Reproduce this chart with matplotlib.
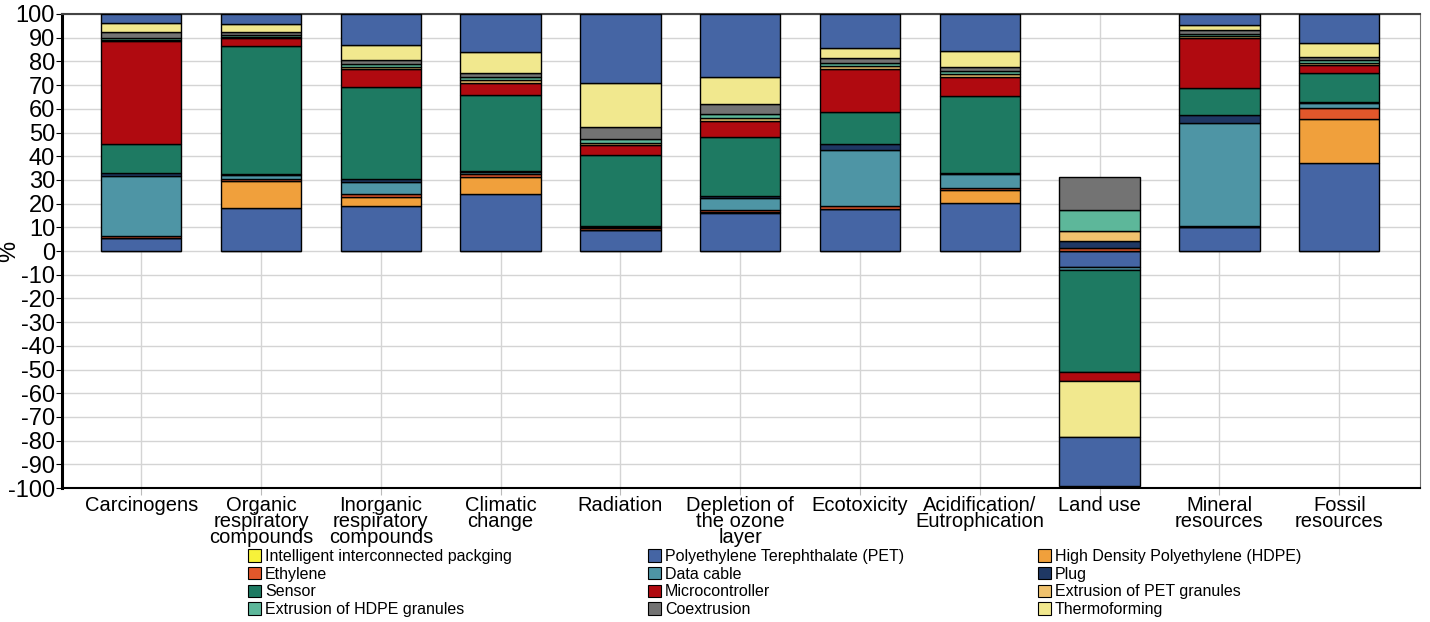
import matplotlib.pyplot as plt
import matplotlib.patches as mpatches
import numpy as np

# impact categories (x axis)
categories = ['Carcinogens', 'Organic\nrespiratory\ncompounds', 'Inorganic\nrespiratory\ncompounds',
              'Climatic\nchange', 'Radiation', 'Depletion of\nthe ozone\nlayer', 'Ecotoxicity',
              'Acidification/\nEutrophication', 'Land use', 'Mineral\nresources', 'Fossil\nresources']

# contribution of each process, % per category
pet       = [5.6, 18.0, 19.0, 24.0, 8.9, 15.9, 17.6, 20.4, -6.6, 10.0, 37.0]
hdpe      = [0.0, 11.7, 3.7, 7.4, 0.0, 0.4, 0.0, 5.3, 0.0, 0.0, 18.6]
ethylene  = [0.6, 0.8, 1.3, 1.0, 1.0, 1.0, 1.4, 1.0, 1.3, 0.4, 4.6]
cable     = [25.3, 1.5, 5.2, 1.0, 0.3, 4.9, 23.6, 5.8, -1.5, 43.7, 2.4]
plug      = [1.6, 0.7, 1.0, 0.5, 0.2, 0.8, 2.4, 0.6, 3.0, 3.3, 0.4]
sensor    = [12.1, 53.8, 38.9, 31.9, 30.1, 25.0, 13.8, 32.3, -42.9, 11.2, 12.2]
micro     = [43.3, 3.2, 7.6, 5.2, 4.2, 7.0, 17.9, 8.2, -4.0, 21.1, 3.3]
pet_gran  = [0.5, 0.8, 1.0, 1.2, 0.8, 1.2, 1.3, 1.2, 4.0, 1.0, 1.0]
hdpe_gran = [0.7, 0.7, 1.0, 1.2, 1.8, 1.6, 1.5, 1.2, 9.0, 1.0, 1.0]
coextr    = [2.8, 1.3, 1.8, 1.8, 4.9, 4.2, 1.8, 1.5, 14.0, 1.5, 1.5]
thermo    = [3.5, 3.3, 6.6, 8.9, 18.8, 11.3, 4.5, 7.0, -23.3, 2.2, 5.9]
intelligent = [0.0] * 11
other     = [4.0, 4.2, 12.9, 15.9, 29.0, 26.7, 14.2, 15.5, -21.0, 4.6, 12.1]

# legend order (row by row) = stacking order
series = [
    ('Intelligent interconnected packging', intelligent, '#F7F23A'),
    ('Polyethylene Terephthalate (PET)', pet, '#4565A4'),
    ('High Density Polyethylene (HDPE)', hdpe, '#F0A03C'),
    ('Ethylene', ethylene, '#E2572B'),
    ('Data cable', cable, '#4E95A5'),
    ('Plug', plug, '#1F3864'),
    ('Sensor', sensor, '#1E7A62'),
    ('Microcontroller', micro, '#B00A10'),
    ('Extrusion of PET granules', pet_gran, '#F0C26E'),
    ('Extrusion of HDPE granules', hdpe_gran, '#5DB79A'),
    ('Coextrusion', coextr, '#737373'),
    ('Thermoforming', thermo, '#F1E88E'),
]

font = ['Liberation Sans', 'DejaVu Sans']

fig = plt.figure(figsize=(14.3, 6.22), dpi=100)
ax = fig.add_axes([0.0434, 0.2154, 0.9497, 0.7621])

x = np.arange(len(categories))
pos_base = np.zeros(len(categories))
neg_base = np.zeros(len(categories))

def stack(vals, color):
    global pos_base, neg_base
    v = np.array(vals, dtype=float)
    bottoms = np.where(v >= 0, pos_base, neg_base)
    ax.bar(x, v, 0.67, bottom=bottoms, color=color, edgecolor='black', linewidth=1.0, zorder=3)
    pos_base = pos_base + np.where(v > 0, v, 0)
    neg_base = neg_base + np.where(v < 0, v, 0)

for name, vals, col in series:
    stack(vals, col)
stack(other, '#4565A4')

ax.set_xlim(-0.66, 10.675)
ax.set_ylim(-100, 100)
ax.set_yticks(np.arange(-100, 101, 10))
ax.set_yticklabels([str(t) for t in range(-100, 101, 10)], family=font, fontsize=17)
ax.set_xticks(x)
ax.set_xticklabels(categories, family=font, fontsize=14.5, linespacing=0.78)
ax.tick_params(axis='y', length=4, pad=1)
ax.tick_params(axis='x', length=5, pad=1, color='#bbbbbb')
ax.grid(True, color='#d4d4d4', linewidth=1.0, zorder=0)
ax.set_axisbelow(True)
ax.set_ylabel('%', family=font, fontsize=17)
ax.yaxis.set_label_coords(-0.031, 0.5)

ax.spines['left'].set_linewidth(2.2)
ax.spines['left'].set_color('black')
ax.spines['bottom'].set_linewidth(1.5)
ax.spines['top'].set_color('#444444')
ax.spines['top'].set_linewidth(1.5)
ax.spines['right'].set_color('#777777')

# three legend columns, filled row by row
col_x = [248, 648, 1038]
for c in range(3):
    handles = []
    for r in range(4):
        name, vals, col = series[r * 3 + c]
        handles.append(mpatches.Patch(facecolor=col, edgecolor='black', linewidth=0.8, label=name))
    fig.legend(handles=handles, loc='upper left', bbox_to_anchor=(col_x[c] / 1430, 1 - 549 / 622),
               frameon=False, prop={'family': font, 'size': 11.5}, handlelength=0.8, handleheight=0.8,
               handletextpad=0.25, labelspacing=0.17, borderpad=0, borderaxespad=0)

fig.savefig('out.png', dpi=100)
